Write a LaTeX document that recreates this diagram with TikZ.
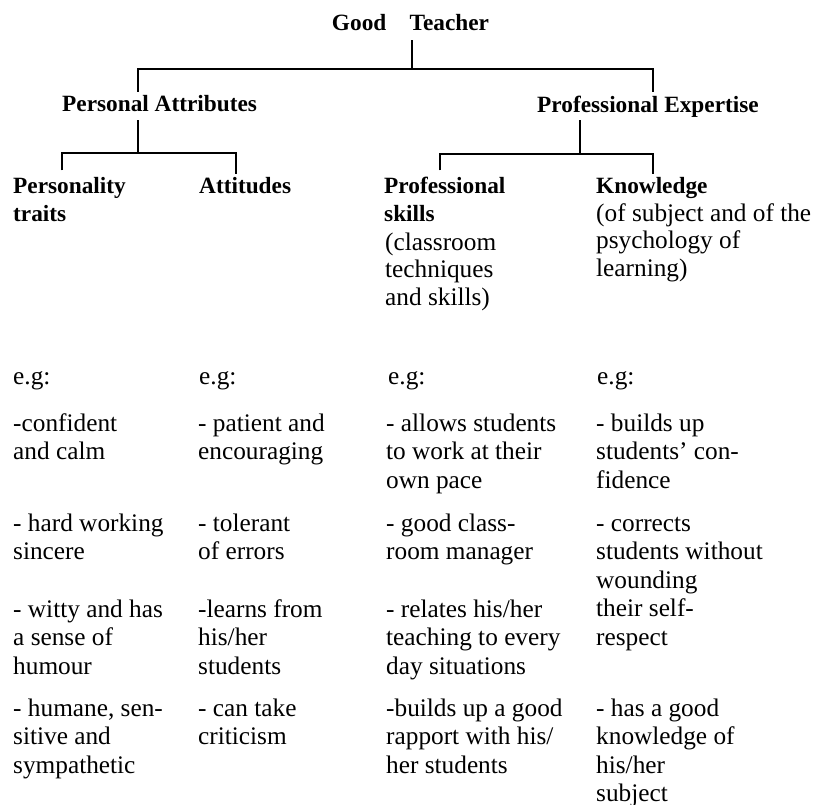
\documentclass[tikz,border=0pt]{standalone}
\usepackage{fontspec}
\setmainfont{Liberation Serif}
\usetikzlibrary{positioning}

\newcommand{\headfont}{\fontsize{23.3}{28}\selectfont\bfseries}
\newcommand{\notefont}{\fontsize{25.3}{27.5}\selectfont}
\newcommand{\itemfont}{\fontsize{25.3}{28.5}\selectfont}

\begin{document}
\begin{tikzpicture}[x=1pt, y=-1pt,
    head/.style={font=\headfont, inner xsep=0pt, inner ysep=3pt, anchor=base west, align=left},
    stack/.style={anchor=north west},
    note/.style={font=\notefont, inner sep=0pt, align=left, stack},
    item/.style={font=\itemfont, inner sep=0pt, align=left, stack},
    branch/.style={line width=2pt}
]
    \useasboundingbox (0,0) rectangle (816,804);

    % tree headings
    \node[head, anchor=base] (gt) at (410.5,30) {Good\quad Teacher};
    \node[head] (pa) at (62,111) {Personal Attributes};
    \node[head] (pe) at (537,112) {Professional Expertise};
    \node[head, stack] (pers) at (13,170.4) {\strut Personality\\traits};
    \node[head] (att) at (199,193) {Attitudes};
    \node[head, stack] (pskill) at (384,170.4) {\strut Professional\\skills};
    \node[note] (pskillnote) at (385,230.7) {\strut(classroom\\techniques\\and skills)};
    \node[head] (know) at (596,193) {Knowledge};
    \node[note] (knownote) at (596,201.7) {\strut(of subject and of the\\psychology of\\learning)};

    % forks
    \coordinate (f1) at (412,69);
    \coordinate (f2) at (138,153);
    \coordinate (f3) at (580,154);

    \draw[branch, shorten <=7pt] (gt.south -| f1) -- (f1);
    \draw[branch] (pa.north -| f2) |- (f1) -| ([xshift=5pt]pe.north);
    \draw[branch, shorten <=6pt] (pa.south -| f2) -- (f2);
    \draw[branch] ([xshift=-7pt]pers.north) |- (f2) -| ([xshift=-9pt]att.north);
    \draw[branch] (pe.south -| f3) -- (f3);
    \draw[branch] ([xshift=-5pt]pskill.north) |- (f3) -| ([xshift=1pt]know.north);

    % examples
    \node[item] (eg1) at (13,364) {\strut e.g:};
    \node[item] (eg2) at (199,364) {\strut e.g:};
    \node[item] (eg3) at (388,364) {\strut e.g:};
    \node[item] (eg4) at (597,364) {\strut e.g:};

    \node[item] (p1) at (13,411) {\strut-confident\\and calm};
    \node[item] (p2) at (13,511) {\strut- hard working\\sincere};
    \node[item] (p3) at (13,597) {\strut- witty and has\\a sense of\\humour};
    \node[item] (p4) at (13,696) {\strut- humane, sen-\\sitive and\\sympathetic};

    \node[item] (a1) at (198,411) {\strut- patient and\\encouraging};
    \node[item] (a2) at (198,511) {\strut- tolerant\\of errors};
    \node[item] (a3) at (198,597) {\strut-learns from\\his/her\\students};
    \node[item] (a4) at (198,696) {\strut- can take\\criticism};

    \node[item] (s1) at (386,411) {\strut- allows students\\to work at their\\own pace};
    \node[item] (s2) at (386,511) {\strut- good class-\\room manager};
    \node[item] (s3) at (386,597) {\strut- relates his/her\\teaching to every\\day situations};
    \node[item] (s4) at (386,696) {\strut-builds up a good\\rapport with his/\\her students};

    \node[item] (k1) at (596,411) {\strut- builds up\\students' con-\\fidence};
    \node[item] (k2) at (596,511) {\strut- corrects\\students without\\wounding\\their self-\\respect};
    \node[item] (k3) at (596,696) {\strut- has a good\\knowledge of\\his/her\\subject};
\end{tikzpicture}
\end{document}
